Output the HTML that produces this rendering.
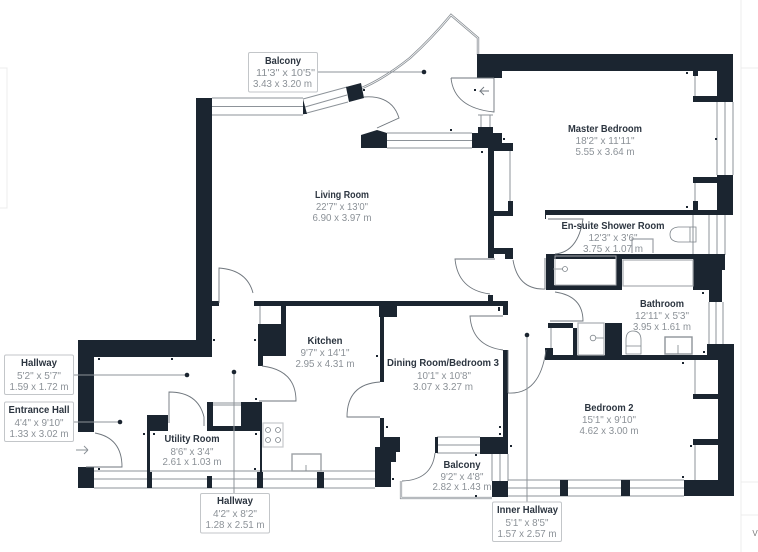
<!DOCTYPE html>
<html><head><meta charset="utf-8"><style>
html,body{margin:0;padding:0;background:#fff;width:758px;height:552px;overflow:hidden}
svg{display:block;filter:blur(.3px)}
text{font-family:"Liberation Sans",sans-serif;text-anchor:middle}
.h{font-size:10px;font-weight:700;fill:#2c3540}
.s{font-size:10.500px;fill:#8b9197}
.w{fill:#1b2530;stroke:none}
.l{fill:none;stroke:#8d9399;stroke-width:1}
.d{fill:none;stroke:#6f767d;stroke-width:.9}
.g{fill:none;stroke:#a9adb1;stroke-width:1.6}
.b{fill:#fff;stroke:#c3c6c9;stroke-width:1}
.t{fill:none;stroke:#7d848a;stroke-width:.8}
.c{fill:#1b2530}
</style></head><body>
<svg width="758" height="552" viewBox="0 0 758 552" xmlns="http://www.w3.org/2000/svg">
<!-- faint page edges -->
<path d="M0 68H7V208H0M741 0V552M741 68H758M741 482H758M741 515H758" fill="none" stroke="#ececec"/>
<text x="755" y="536" style="font-size:8px;fill:#777">V</text>

<!-- windows / thin lines -->
<g class="l">
<path d="M212 98H303M212 106.500H303M212 115H303"/>
<path d="M303 99L347 87M305 107L347 95M303 114L348 102"/>
<path d="M387 133H472M387 140.500H472M387 148H472"/>
<path d="M717 102V175M725 102V255M733 102V175"/>
<path d="M693 215V255M709 215V254M717 215V254M725 215V254"/>
<path d="M709 302V344M716 302V344M723 302V344"/>
<path d="M695 76V96M695 183V201M510 151V201"/>
<path d="M94 471H375M94 479H375M94 488H375"/>
<path d="M508 480H684M508 488H684M508 496H684"/>
<path d="M492 454V481M500 454V481M508 454V481"/>
<path d="M437 437H480M437 445H480M437 453H480"/>
<path d="M695 360V394M695 445V480M551 328V348M260 306V324"/>
<path d="M213 403H241M213 405H241"/>
<path d="M481 127V115M490 127V115M478 115H493"/>
</g>
<!-- balcony outlines -->
<g class="g">
<path d="M362 88Q385 78 410 58Q432 38 451 15L478 38V55" stroke="#8a9096" stroke-width="2.400"/>
<path d="M401 481V498H492"  stroke="#8a9096" stroke-width="2.200"/>
</g>
<path d="M362 88Q385 78 410 58Q432 38 451 15L478 38V55M401 481V498H492" fill="none" stroke="#fff" stroke-width=".8"/>

<!-- walls -->
<g class="w">
<path d="M196 98H212V357H78V340H196Z"/>
<rect x="78" y="340" width="16" height="92"/>
<rect x="78" y="467" width="16" height="21"/>
<path d="M346 87L361 83L364 98L349 102Z"/>
<path d="M303 99L307 114H303Z"/>
<path d="M361 135L377 130L387 133V148H361Z"/>
<path d="M478 127H493V133H502V143H513V151H494V258H488V148H472V133H478Z"/>
<path d="M477 54H733V102H693V96H717V71H698V76H693V71H502V78H477Z"/>
<path d="M717 175H733V215H546V219H545V210H693V201H698V210H717V183H693V177H717Z"/>
<rect x="488" y="211" width="25" height="5"/><rect x="508" y="201" width="5" height="15"/>
<rect x="488" y="248" width="25" height="6"/><rect x="505" y="248" width="8" height="11"/>
<!-- bath -->
<path d="M546 254H725V270H722V302H709V290H693V259H622V290H549V285H616V259H554V290H546Z"/>
<!-- right lower -->
<path d="M707 344H734V496H684V480H718V445H693V439H718V399H693V394H718V360H545V348H553V355H573V323H548V328H577V355H605V323H622V355H707Z"/>
<rect x="560" y="480" width="8" height="16"/><rect x="621" y="480" width="9" height="16"/>
<rect x="492" y="481" width="16" height="16"/>
<!-- hall top walls -->
<rect x="254" y="301" width="254" height="5"/>
<rect x="212" y="301" width="7" height="5"/>
<rect x="379" y="306" width="18" height="11"/><rect x="380" y="317" width="4" height="65"/>
<rect x="503" y="306" width="5" height="9"/><rect x="488" y="295" width="5" height="6"/>
<rect x="503" y="350" width="5" height="90"/>
<rect x="480" y="437" width="28" height="17"/><rect x="435" y="437" width="3" height="16"/>
<path d="M380 418H384V437H400V452H396V462H391V487H375V447H380Z"/>
<!-- kitchen block -->
<rect x="281" y="306" width="5" height="18"/>
<path d="M258 324H286V356H263V366H258Z"/>
<!-- utility -->
<rect x="147" y="415" width="21" height="16"/><rect x="147" y="431" width="3" height="41"/>
<rect x="147" y="472" width="5" height="16"/><rect x="207" y="476" width="5" height="12"/>
<rect x="257" y="472" width="6" height="16"/><rect x="317" y="472" width="7" height="16"/>
<path d="M207 402H213V426H241V402H262V472H260V431H207Z"/>
</g>

<!-- small dimension ticks -->
<g class="c">
<rect x="98" y="358" width="2" height="2"/><rect x="171" y="358" width="2" height="2"/>
<rect x="213" y="339" width="2" height="2"/><rect x="254" y="339" width="2" height="2"/>
<rect x="98" y="468" width="2" height="2"/><rect x="254" y="468" width="2" height="2"/>
<rect x="143" y="433" width="2" height="2"/><rect x="153" y="433" width="2" height="2"/>
<rect x="255" y="398" width="2" height="2"/><rect x="255" y="433" width="2" height="2"/>
<rect x="450" y="129" width="2" height="2"/><rect x="481" y="151" width="2" height="2"/>
<rect x="474" y="89" width="2" height="2"/><rect x="363" y="89" width="2" height="2"/>
<rect x="686" y="72" width="2" height="2"/><rect x="686" y="206" width="2" height="2"/>
<rect x="715" y="138" width="2" height="2"/><rect x="503" y="138" width="2" height="2"/>
<rect x="702" y="292" width="2" height="2"/><rect x="703" y="351" width="2" height="2"/>
<rect x="682" y="362" width="2" height="2"/><rect x="498" y="307" width="2" height="2"/>
<rect x="510" y="445" width="2" height="2"/><rect x="690" y="445" width="2" height="2"/>
<rect x="682" y="476" width="2" height="2"/><rect x="386" y="426" width="2" height="2"/>
<rect x="392" y="478" width="2" height="2"/><rect x="475" y="454" width="2" height="2"/>
<rect x="475" y="495" width="2" height="2"/><rect x="499" y="426" width="2" height="2"/>
<rect x="499" y="433" width="2" height="2"/><rect x="376" y="355" width="2" height="2"/>
<rect x="498" y="309" width="2" height="2"/>
</g>

<!-- doors -->
<g class="d">
<path d="M364 97Q392 95 399 118L377 128"/>
<path d="M451 78H494M451 78Q454 108 494 112V78"/>
<path d="M219 303V268Q247 270 253 293"/>
<path d="M262 366Q296 370 296 401H259"/>
<path d="M95 433Q122 438 122 467H86"/>
<path d="M169 423V392Q198 392 204 417V426"/>
<path d="M380 382Q347 384 347 417H380"/>
<path d="M435 453Q432 480 402 481"/>
<path d="M503 350Q472 346 470 316H503"/>
<path d="M495 259H455Q458 290 490 294"/>
<path d="M513 260Q518 290 545 289V258"/>
<path d="M548 219H583Q578 252 555 254"/>
<path d="M555 292Q583 296 583 321H550"/>
<path d="M508 393Q540 395 546 350M508 350V393"/>
<path d="M489 91H480L484 87M480 91L484 95"/>
<path d="M76 450H88M88 450L84 446M88 450L84 454" stroke="#8a9096"/>
</g>

<!-- fixtures -->
<g class="t">
<circle cx="565" cy="269" r="2.500"/><path d="M553 269H563"/>
<circle cx="593" cy="338" r="2.800"/><path d="M596 338H604"/>
<path d="M696 227H678Q670 228 670 234.500Q670 241 678 242H696ZM690 227V242"/>
<path d="M632 253V239H653V253" stroke="#9ca1a6" stroke-width="1.200"/>
<path d="M626 354V340Q626 331 633 331Q641 331 641 340V354ZM626 346H641"/>
<rect x="665" y="337" width="27" height="17" stroke="#8f9499" stroke-width="1.400"/><path d="M678 345V354"/>
<rect x="578" y="323" width="26" height="32" stroke="#a8acb0" stroke-width="1.200"/>
<rect x="555" y="256" width="61" height="29" stroke="#a8acb0" stroke-width="1"/>
<rect x="623" y="260" width="70" height="26" stroke="#a8acb0" stroke-width="1.200"/>
<rect x="263" y="423" width="20" height="24" stroke="#c6c9cc" stroke-width="1.200"/>
<circle cx="268" cy="430" r="2.500"/><circle cx="278" cy="430" r="2.500"/><circle cx="268" cy="440" r="2.500"/><circle cx="278" cy="440" r="2.500"/>
<rect x="292" y="454" width="29" height="17" stroke="#9ca1a6" stroke-width="1.400"/><path d="M306 465V471"/>
</g>

<!-- leaders -->
<g stroke="#8d9399" stroke-width="1" fill="none">
<path d="M317 72H424"/><path d="M73 375H187"/><path d="M73 422H120"/><path d="M234 372V493"/><path d="M527 335V502"/>
</g>
<g class="c"><circle cx="424" cy="72" r="2.300"/><circle cx="187" cy="375" r="2.300"/><circle cx="120" cy="422" r="2.300"/><circle cx="234" cy="372" r="2.300"/><circle cx="527" cy="335" r="2.300"/></g>

<!-- label boxes -->
<rect class="b" x="248.500" y="52.500" width="69" height="39.500" rx="1.500"/>
<rect class="b" x="4.500" y="355" width="69" height="39.500" rx="1.500"/>
<rect class="b" x="4.500" y="402" width="69" height="39.500" rx="1.500"/>
<rect class="b" x="200.500" y="493.500" width="69" height="39.500" rx="1.500"/>
<rect class="b" x="492.500" y="502" width="69" height="39.500" rx="1.500"/>

<!-- labels -->
<text class="h" x="283" y="64" textLength="36" lengthAdjust="spacingAndGlyphs">Balcony</text>
<text class="s" x="285.500" y="76" textLength="59" lengthAdjust="spacingAndGlyphs">11'3" x 10'5"</text>
<text class="s" x="282.500" y="87" textLength="59" lengthAdjust="spacingAndGlyphs">3.43 x 3.20 m</text>

<text class="h" x="605" y="132" textLength="74" lengthAdjust="spacingAndGlyphs">Master Bedroom</text>
<text class="s" x="605" y="144" textLength="59" lengthAdjust="spacingAndGlyphs">18'2" x 11'11"</text>
<text class="s" x="605" y="155" textLength="59" lengthAdjust="spacingAndGlyphs">5.55 x 3.64 m</text>

<text class="h" x="342" y="198" textLength="54" lengthAdjust="spacingAndGlyphs">Living Room</text>
<text class="s" x="342" y="210" textLength="52" lengthAdjust="spacingAndGlyphs">22'7" x 13'0"</text>
<text class="s" x="342" y="221" textLength="59" lengthAdjust="spacingAndGlyphs">6.90 x 3.97 m</text>

<text class="h" x="613" y="229" textLength="103" lengthAdjust="spacingAndGlyphs">En-suite Shower Room</text>
<text class="s" x="613" y="241" textLength="49" lengthAdjust="spacingAndGlyphs">12'3" x 3'6"</text>
<text class="s" x="613" y="252" textLength="60" lengthAdjust="spacingAndGlyphs">3.75 x 1.07 m</text>

<text class="h" x="662" y="307" textLength="44" lengthAdjust="spacingAndGlyphs">Bathroom</text>
<text class="s" x="662" y="319" textLength="54" lengthAdjust="spacingAndGlyphs">12'11" x 5'3"</text>
<text class="s" x="662" y="330" textLength="58" lengthAdjust="spacingAndGlyphs">3.95 x 1.61 m</text>

<text class="h" x="325" y="344" textLength="35" lengthAdjust="spacingAndGlyphs">Kitchen</text>
<text class="s" x="325" y="356" textLength="49" lengthAdjust="spacingAndGlyphs">9'7" x 14'1"</text>
<text class="s" x="325" y="367" textLength="59" lengthAdjust="spacingAndGlyphs">2.95 x 4.31 m</text>

<text class="h" x="443" y="366" textLength="112" lengthAdjust="spacingAndGlyphs">Dining Room/Bedroom 3</text>
<text class="s" x="444" y="379" textLength="54" lengthAdjust="spacingAndGlyphs">10'1" x 10'8"</text>
<text class="s" x="443" y="390" textLength="60" lengthAdjust="spacingAndGlyphs">3.07 x 3.27 m</text>

<text class="h" x="462" y="468" textLength="37" lengthAdjust="spacingAndGlyphs">Balcony</text>
<text class="s" x="462" y="480" textLength="43" lengthAdjust="spacingAndGlyphs">9'2" x 4'8"</text>
<text class="s" x="462" y="490" textLength="59" lengthAdjust="spacingAndGlyphs">2.82 x 1.43 m</text>

<text class="h" x="609" y="411" textLength="49" lengthAdjust="spacingAndGlyphs">Bedroom 2</text>
<text class="s" x="609" y="423" textLength="54" lengthAdjust="spacingAndGlyphs">15'1" x 9'10"</text>
<text class="s" x="609" y="434" textLength="59" lengthAdjust="spacingAndGlyphs">4.62 x 3.00 m</text>

<text class="h" x="192" y="442" textLength="55" lengthAdjust="spacingAndGlyphs">Utility Room</text>
<text class="s" x="192" y="455" textLength="43" lengthAdjust="spacingAndGlyphs">8'6" x 3'4"</text>
<text class="s" x="192" y="465" textLength="59" lengthAdjust="spacingAndGlyphs">2.61 x 1.03 m</text>

<text class="h" x="39" y="366" textLength="36" lengthAdjust="spacingAndGlyphs">Hallway</text>
<text class="s" x="39" y="379" textLength="44" lengthAdjust="spacingAndGlyphs">5'2" x 5'7"</text>
<text class="s" x="39" y="390" textLength="59" lengthAdjust="spacingAndGlyphs">1.59 x 1.72 m</text>

<text class="h" x="39" y="413" textLength="61" lengthAdjust="spacingAndGlyphs">Entrance Hall</text>
<text class="s" x="39" y="426" textLength="49" lengthAdjust="spacingAndGlyphs">4'4" x 9'10"</text>
<text class="s" x="39" y="437" textLength="59" lengthAdjust="spacingAndGlyphs">1.33 x 3.02 m</text>

<text class="h" x="235" y="504" textLength="36" lengthAdjust="spacingAndGlyphs">Hallway</text>
<text class="s" x="235" y="517" textLength="44" lengthAdjust="spacingAndGlyphs">4'2" x 8'2"</text>
<text class="s" x="235" y="528" textLength="59" lengthAdjust="spacingAndGlyphs">1.28 x 2.51 m</text>

<text class="h" x="527.500" y="513" textLength="61" lengthAdjust="spacingAndGlyphs">Inner Hallway</text>
<text class="s" x="527" y="526" textLength="43" lengthAdjust="spacingAndGlyphs">5'1" x 8'5"</text>
<text class="s" x="527" y="537" textLength="59" lengthAdjust="spacingAndGlyphs">1.57 x 2.57 m</text>
</svg>
</body></html>
